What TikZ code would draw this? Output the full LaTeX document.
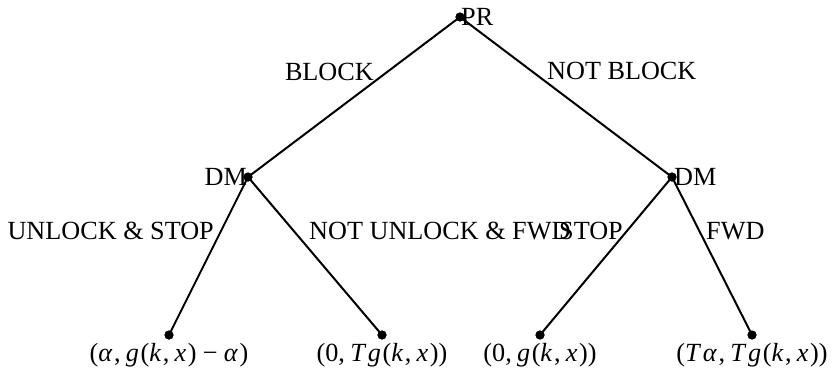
\documentclass[tikz,border=0pt]{standalone}
\usepackage{fontspec}
\setmainfont{Liberation Serif}
\newcommand{\mi}[1]{\textit{#1}\kern0.06em}
\newcommand{\cm}{,\hspace{0.2em}}
\newcommand{\mn}{\hspace{0.24em}−\hspace{0.24em}}
\begin{document}
\begin{tikzpicture}[x=1pt,y=-1pt,
  every node/.style={font=\fontsize{26.2}{31}\selectfont},
  dotnode/.style={circle,fill=black,inner sep=0pt,minimum size=9pt},
  branch/.style={line width=2pt,black},
  lbl/.style={inner sep=0pt}]
\useasboundingbox (0,0) rectangle (833,368);
% decision nodes
\node[dotnode] (pr) at (460,17) {};
\node[dotnode] (dml) at (248,177) {};
\node[dotnode] (dmr) at (672,177) {};
\node[dotnode] (l1) at (169,335) {};
\node[dotnode] (l2) at (382,335) {};
\node[dotnode] (l3) at (540,335) {};
\node[dotnode] (l4) at (752,335) {};
% player labels
\node[anchor=west,inner sep=1pt] (prlab) at (pr.center) {PR};
\node[anchor=east,inner sep=1pt] (dmllab) at (dml.center) {DM};
\node[anchor=west,inner sep=2pt] (dmrlab) at (dmr.center) {DM};
% branches
\draw[branch] (pr.center) -- (dml.center);
\draw[branch] (pr.center) -- (dmr.center);
\draw[branch] (dml.center) -- (l1.center);
\draw[branch] (dml.center) -- (l2.center);
\draw[branch] (dmr.center) -- (l3.center);
\draw[branch] (dmr.center) -- (l4.center);
% redraw dots on top
\foreach \n in {pr,dml,dmr,l1,l2,l3,l4}{\fill (\n.center) circle (4.5pt);}
% action labels
\node[lbl,anchor=base east] (ablock) at (374,80) {BLOCK};
\node[lbl,anchor=base west] (anblock) at (547,79) {NOT BLOCK};
\node[lbl,anchor=base east] (aus) at (214,239) {UNLOCK \& STOP};
\node[lbl,anchor=base west] (anuf) at (309,239) {NOT UNLOCK \& FWD};
\node[lbl,anchor=base east] (astop) at (623,239) {STOP};
\node[lbl,anchor=base west] (afwd) at (706,239) {FWD};
% payoffs
\node[lbl,anchor=base] (p1) at (l1 |- 0,361) {(\mi{α}\cm\mi{g}(\mi{k}\cm\mi{x})\mn\mi{α})};
\node[lbl,anchor=base] (p2) at (l2 |- 0,361) {(0\cm\mi{T}\mi{g}(\mi{k}\cm\mi{x}))};
\node[lbl,anchor=base] (p3) at (l3 |- 0,361) {(0\cm\mi{g}(\mi{k}\cm\mi{x}))};
\node[lbl,anchor=base] (p4) at (l4 |- 0,361) {(\mi{T}\mi{α}\cm\mi{T}\mi{g}(\mi{k}\cm\mi{x}))};
\end{tikzpicture}
\end{document}
